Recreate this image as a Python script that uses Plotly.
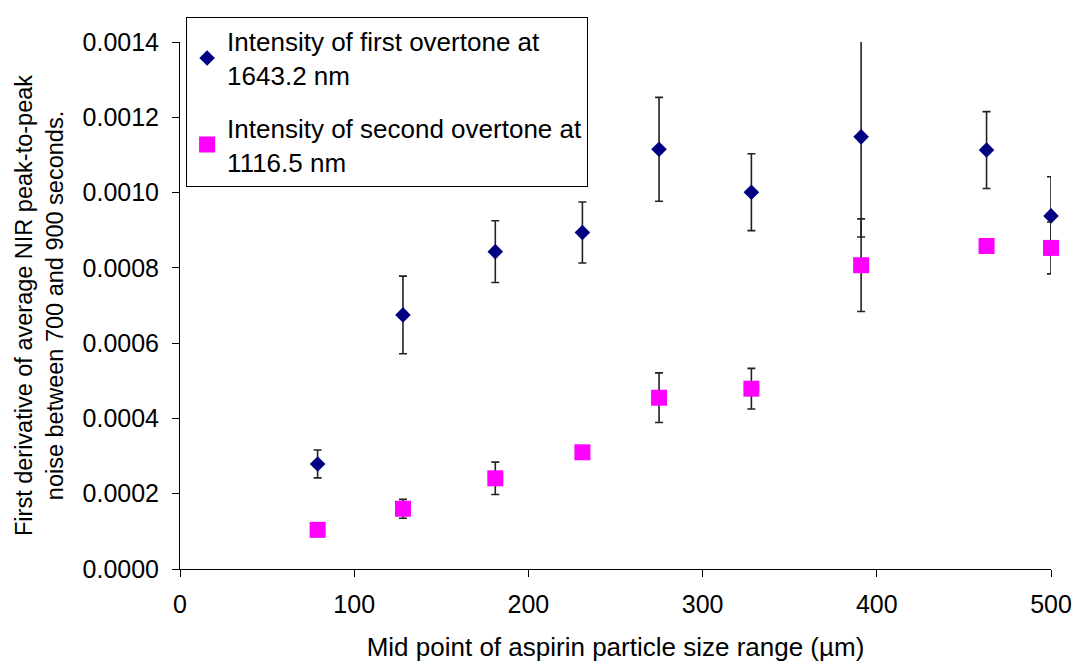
import plotly.graph_objects as go

particle_size = [79, 128, 181, 231, 275, 328, 391, 463, 500]

first_overtone = [0.000279, 0.000675, 0.000843, 0.000894, 0.001115, 0.001001, 0.001148, 0.001113, 0.000938]
first_overtone_err = [0.000037, 0.000103, 0.000082, 0.000081, 0.000138, 0.000102, 0.000266, 0.000102, 0.000104]

second_overtone = [0.000104, 0.000160, 0.000241, 0.000310, 0.000455, 0.000479, 0.000807, 0.000858, 0.000853]
second_overtone_err = [0.0, 0.000025, 0.000043, 0.0, 0.000066, 0.000054, 0.000123, 0.0, 0.000069]

y_ticks = [0.0, 0.0002, 0.0004, 0.0006, 0.0008, 0.0010, 0.0012, 0.0014]
x_ticks = [0, 100, 200, 300, 400, 500]

FONT = "Liberation Sans, Arial, sans-serif"

fig = go.Figure()
fig.add_trace(go.Scatter(
    x=particle_size, y=first_overtone, mode="markers",
    name="Intensity of first overtone at<br>1643.2 nm", legendgroup="a",
    marker=dict(symbol="diamond", size=12, color="#000080"),
    error_y=dict(type="data", array=first_overtone_err, visible=True,
                 color="#222222", thickness=1.6, width=4),
    cliponaxis=False,
))
fig.add_trace(go.Scatter(
    x=particle_size, y=second_overtone, mode="markers",
    name="Intensity of second overtone at<br>1116.5 nm", legendgroup="b",
    marker=dict(symbol="square", size=16, color="#FF00FF"),
    error_y=dict(type="data", array=second_overtone_err, visible=True,
                 color="#222222", thickness=1.6, width=4),
    cliponaxis=False,
))

fig.update_layout(
    width=1077, height=662,
    margin=dict(l=180, r=26, t=42, b=93, autoexpand=False),
    paper_bgcolor="white", plot_bgcolor="white",
    font=dict(family=FONT, size=20, color="black"),
    showlegend=True,
    legend=dict(
        x=0.007, y=1.048, xanchor="left", yanchor="top",
        bgcolor="white", bordercolor="black", borderwidth=1,
        font=dict(family=FONT, size=26, color="black"),
        tracegroupgap=16,
    ),
    xaxis=dict(
        range=[0, 500], tickvals=x_ticks, ticktext=[str(v) for v in x_ticks],
        showgrid=False, zeroline=False, showline=True, linecolor="black", linewidth=1,
        ticks="outside", ticklen=7, tickcolor="black", ticklabelstandoff=6,
        automargin=False,
        title=dict(text="Mid point of aspirin particle size range (µm)", standoff=20,
                   font=dict(size=26)),
        tickfont=dict(size=25),
    ),
    yaxis=dict(
        range=[0, 0.0014], tickvals=y_ticks, ticktext=[f"{v:.4f}" for v in y_ticks],
        showgrid=False, zeroline=False, showline=True, linecolor="black", linewidth=1,
        ticks="outside", ticklen=7, tickcolor="black", ticklabelstandoff=8,
        automargin=False,
        title=dict(text="First derivative of average NIR peak-to-peak<br>noise between 700 and 900 seconds.",
                   standoff=12, font=dict(size=23.5)),
        tickfont=dict(size=25),
    ),
)

fig.write_html("out.html")
